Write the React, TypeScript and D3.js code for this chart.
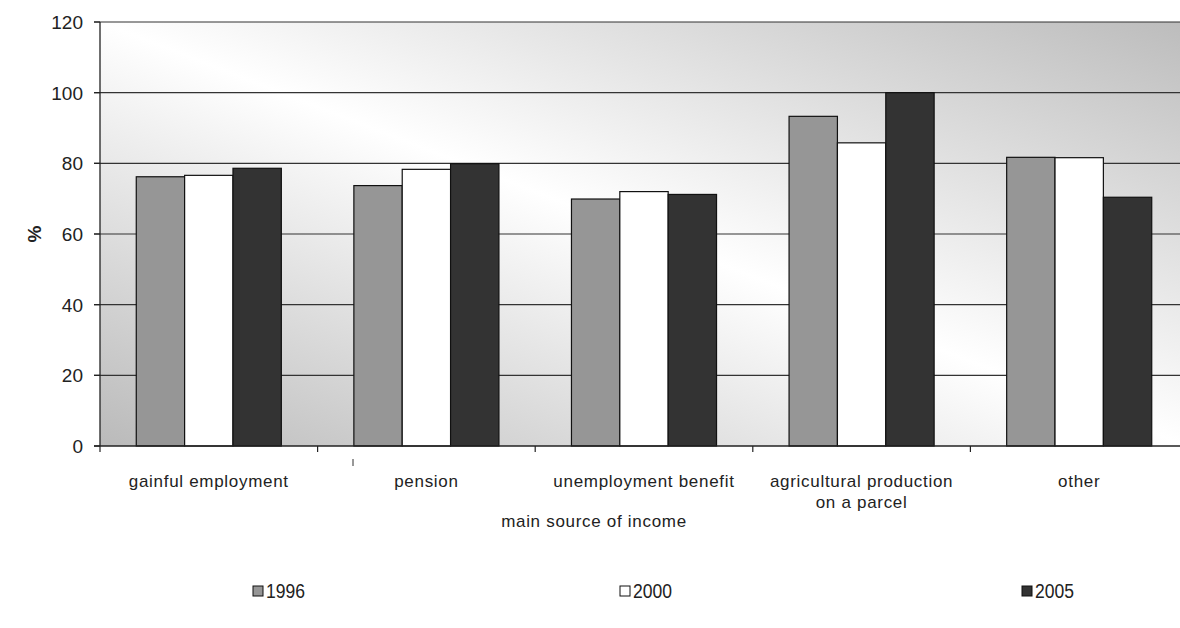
import React from "react";
import * as d3 from "d3";

const categories: string[][] = [
  ["gainful employment"],
  ["pension"],
  ["unemployment benefit"],
  ["agricultural production", "on a parcel"],
  ["other"],
];
const seriesNames = ["1996", "2000", "2005"];
const values1996 = [76.2, 73.7, 69.9, 93.3, 81.7];
const values2000 = [76.6, 78.3, 72.0, 85.8, 81.6];
const values2005 = [78.6, 79.9, 71.2, 100, 70.4];
const yTicks = [0, 20, 40, 60, 80, 100, 120];
const seriesColors = ["#969696", "#ffffff", "#333333"];

const W = 1180;
const H = 628;
const left = 100;
const right = 1188;
const top = 22;
const bottom = 446;
const FONT = "'Liberation Sans', Arial, sans-serif";

export default function App() {
  const series = [values1996, values2000, values2005];
  const catKeys = categories.map((c, i) => String(i));
  const x0 = d3.scaleBand<string>().domain(catKeys).range([left, right]).paddingInner(0).paddingOuter(0);
  const x1 = d3
    .scaleBand<string>()
    .domain(seriesNames)
    .range([0, x0.bandwidth()])
    .paddingInner(0)
    .paddingOuter(0.75);
  const y = d3.scaleLinear().domain([0, 120]).range([bottom, top]);

  const boundaries = d3.range(categories.length + 1).map((i) => left + i * x0.step());

  const legendX = [253, 620, 1022];

  return (
    <svg
      width={W}
      height={H}
      style={{ position: "absolute", left: 0, top: 0, background: "#fff" }}
      fontFamily={FONT}
    >
      <defs>
        <linearGradient id="bg" x1="0" y1="1" x2="1" y2="0">
          <stop offset="0" stopColor="#bababa" />
          <stop offset="0.5" stopColor="#ffffff" />
          <stop offset="1" stopColor="#bcbcbc" />
        </linearGradient>
      </defs>
      <rect x={left} y={y(120)} width={right - left} height={bottom - y(120)} fill="url(#bg)" />
      {/* gridlines */}
      {yTicks.slice(1).map((t) => (
        <line key={t} x1={left - 6} x2={right} y1={y(t)} y2={y(t)} stroke="#333" strokeWidth={1.2} />
      ))}
      {/* bars */}
      {catKeys.map((k, ci) => (
        <g key={k} transform={`translate(${x0(k)},0)`}>
          {seriesNames.map((s, si) => (
            <rect
              key={s}
              x={x1(s)}
              y={y(series[si][ci])}
              width={x1.bandwidth()}
              height={y(0) - y(series[si][ci])}
              fill={seriesColors[si]}
              stroke="#111"
              strokeWidth={1.2}
            />
          ))}
        </g>
      ))}
      {/* axes */}
      <line x1={left} x2={left} y1={y(120)} y2={bottom} stroke="#222" strokeWidth={1.3} />
      <line x1={left - 6} x2={right} y1={bottom} y2={bottom} stroke="#222" strokeWidth={1.3} />
      {yTicks.map((t) => (
        <g key={t}>
          <line x1={left - 6} x2={left} y1={y(t)} y2={y(t)} stroke="#222" strokeWidth={1.2} />
          <text x={83} y={y(t)} dy="0.36em" textAnchor="end" fontSize={19} fill="#222">
            {t}
          </text>
        </g>
      ))}
      {boundaries.map((b, i) => (
        <line key={i} x1={b} x2={b} y1={bottom} y2={bottom + 6} stroke="#222" strokeWidth={1.2} />
      ))}
      <line x1={353} x2={353} y1={459} y2={466} stroke="#333" strokeWidth={1} />
      {/* category labels */}
      {catKeys.map((k, ci) =>
        categories[ci].map((line, li) => (
          <text
            key={k + li}
            x={(x0(k) as number) + x0.bandwidth() / 2}
            y={487 + li * 21}
            textAnchor="middle"
            fontSize={17}
            letterSpacing={0.7}
            fill="#222"
          >
            {line}
          </text>
        ))
      )}
      <text x={594} y={527} textAnchor="middle" fontSize={17} letterSpacing={0.7} fill="#222">
        main source of income
      </text>
      <text
        transform={`translate(41,${(top + bottom) / 2}) rotate(-90)`}
        textAnchor="middle"
        fontSize={19}
        fontWeight="bold"
        fill="#222"
      >
        %
      </text>
      {/* legend */}
      {seriesNames.map((s, si) => (
        <g key={s} transform={`translate(${legendX[si]},586)`}>
          <rect x={0} y={0} width={10} height={10} fill={seriesColors[si]} stroke="#111" strokeWidth={1} />
          <text x={13} y={12} fontSize={20} fill="#222" textLength={39} lengthAdjust="spacingAndGlyphs">
            {s}
          </text>
        </g>
      ))}
    </svg>
  );
}
